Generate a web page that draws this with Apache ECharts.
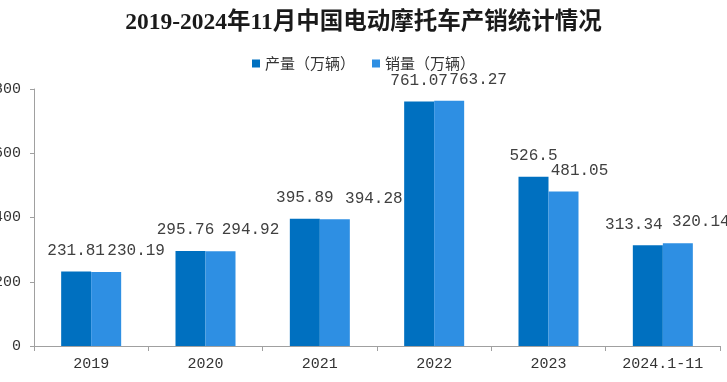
<!DOCTYPE html>
<html>
<head>
<meta charset="utf-8">
<script src="https://cdn.jsdelivr.net/npm/echarts@6/dist/echarts.min.js"></script>
<style>html,body{margin:0;padding:0;background:#fff}#c{width:727px;height:382px}</style>
</head>
<body>
<div id="c"></div>
<script>
var categories = ['2019', '2020', '2021', '2022', '2023', '2024.1-11'];
var production = [231.81, 295.76, 395.89, 761.07, 526.5, 313.34];
var sales = [230.19, 294.92, 394.28, 763.27, 481.05, 320.14];
var seriesNames = ['产量（万辆）', '销量（万辆）'];
var yTicks = [0, 200, 400, 600, 800];

// label nudges (style only), mimicking the hand-placed labels of the original
var prodLabelDx = [0, -5, 0, 0, 0, -14];
var salesLabelDx = [30, 30, 39, 29, 16, 23];

function items(vals, dx) {
  return vals.map(function (v, i) {
    return { value: v, label: { offset: [dx[i], 0] } };
  });
}

var chart = echarts.init(document.getElementById('c'), null, { renderer: 'canvas' });
var labelStyle = {
  show: true, position: 'top', distance: 13,
  fontFamily: 'Liberation Mono', fontSize: 16, color: '#404040'
};
chart.setOption({
  animation: false,
  backgroundColor: '#fff',
  title: {
    text: '2019-2024年11月中国电动摩托车产销统计情况',
    left: 'center', top: 6,
    textStyle: { fontFamily: 'Liberation Serif, "Noto Sans CJK SC"', fontWeight: 'bold', fontSize: 23.5, color: '#1a1a1a' }
  },
  legend: {
    top: 51, left: 'center',
    itemWidth: 8, itemHeight: 8, itemGap: 17,
    icon: 'rect',
    textStyle: { fontFamily: '"Noto Sans CJK SC"', fontSize: 15, color: '#333' },
    data: seriesNames
  },
  grid: { left: 34, right: 7, top: 89, bottom: 36, containLabel: false, outerBoundsMode: 'none' },
  xAxis: {
    type: 'category',
    data: categories,
    axisLine: { lineStyle: { color: '#A0A0A0', width: 1 } },
    axisTick: { show: true, length: 5, lineStyle: { color: '#A0A0A0' } },
    axisLabel: { fontFamily: 'Liberation Mono', fontSize: 15, color: '#333', margin: 11 }
  },
  yAxis: {
    type: 'value',
    min: yTicks[0], max: yTicks[yTicks.length - 1], interval: 200,
    axisLine: { show: true, lineStyle: { color: '#A0A0A0', width: 1 } },
    axisTick: { show: true, length: 4, lineStyle: { color: '#A0A0A0' } },
    splitLine: { show: false },
    axisLabel: { fontFamily: 'Liberation Mono', fontSize: 15, color: '#333', margin: 13 }
  },
  series: [
    {
      name: seriesNames[0], type: 'bar', barWidth: 30, barGap: '0%',
      itemStyle: { color: '#0070C0' },
      label: labelStyle,
      data: items(production, prodLabelDx)
    },
    {
      name: seriesNames[1], type: 'bar', barWidth: 30, barGap: '0%',
      itemStyle: { color: '#2E8FE3' },
      label: labelStyle,
      data: items(sales, salesLabelDx)
    }
  ]
});
</script>
</body>
</html>
